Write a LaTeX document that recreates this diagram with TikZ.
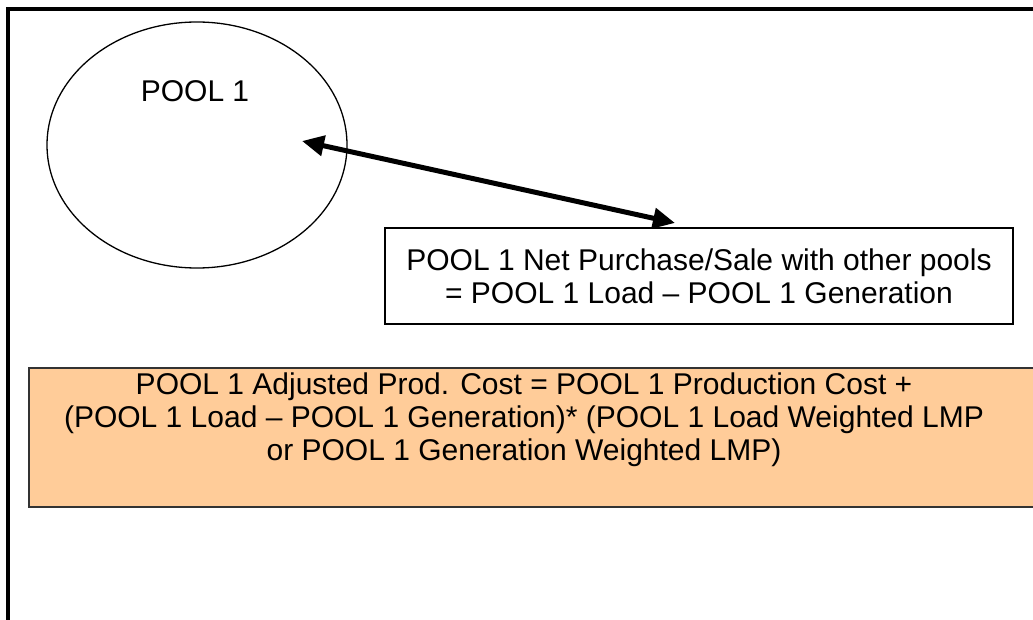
\documentclass[tikz,border=0pt]{standalone}
\usepackage{fontspec}
\setmainfont{Liberation Sans}
\usetikzlibrary{shapes.geometric,arrows.meta}
\definecolor{costfill}{HTML}{FFCC99}
\begin{document}
\begin{tikzpicture}
  [x=1pt,y=-1pt,every node/.style={font=\fontsize{30}{33}\selectfont,align=center}]
  \tikzstyle{pool} = [draw,ellipse,minimum width=300pt,minimum height=246pt,inner sep=0pt,line width=1.3pt]
  \tikzstyle{netbox} = [draw,line width=1.8pt,minimum width=628pt,minimum height=96pt]
  \tikzstyle{costbox} = [draw=black!80,fill=costfill,line width=1.8pt,minimum width=1040pt,minimum height=139pt,anchor=north west]
  \tikzstyle{trade} = [line width=5pt,{Triangle[length=22pt,width=20pt]}-{Triangle[length=22pt,width=20pt]}]
  \useasboundingbox (0,0) rectangle (1033,620);
  \clip (0,0) rectangle (1033,620);
  % outer frame
  \draw[line width=3.2pt] (8,9) rectangle (1060,650);
  % pool and net purchase box
  \node[pool] (pool1) at (197,145) {};
  \node (poolname) at (195,91) {POOL 1};
  \node[netbox] (net) at (699,276) {POOL 1 Net Purchase/Sale with other pools\\= POOL 1 Load -- POOL 1 Generation};
  \coordinate (pooltip) at (302,141);
  \coordinate (nettip) at (675,223);
  \draw[trade] (pooltip) -- (nettip);
  % adjusted cost
  \node[costbox] (cost) at (28,367) {};
  \node (costtext) at (524,420) {POOL 1 Adjusted Prod. Cost = POOL 1 Production Cost +\\(POOL 1 Load -- POOL 1 Generation)* (POOL 1 Load Weighted LMP\\or POOL 1 Generation Weighted LMP)};
\end{tikzpicture}
\end{document}
